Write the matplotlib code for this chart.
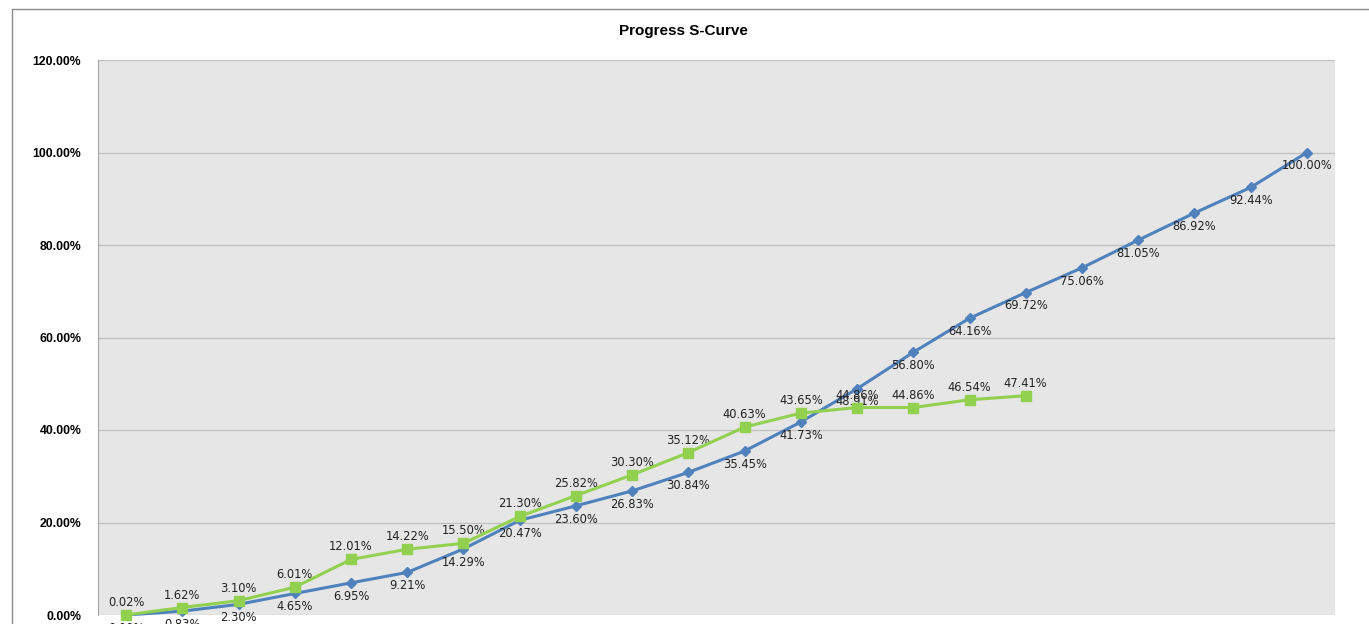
import numpy as np
import matplotlib.pyplot as plt
from matplotlib.patches import Rectangle
from matplotlib.ticker import FuncFormatter

# Valeurs (en %)
planned = [0.00, 0.83, 2.30, 4.65, 6.95, 9.21, 14.29, 20.47, 23.60, 26.83, 30.84,
           35.45, 41.73, 48.91, 56.80, 64.16, 69.72, 75.06, 81.05, 86.92, 92.44, 100.00]
actual = [0.02, 1.62, 3.10, 6.01, 12.01, 14.22, 15.50, 21.30, 25.82, 30.30, 35.12,
          40.63, 43.65, 44.86, 44.86, 46.54, 47.41]
y_ticks = [0, 20, 40, 60, 80, 100, 120]

blue = '#4F81BD'
green = '#92D050'

fig = plt.figure(figsize=(13.69, 6.24), dpi=100)
fig.patches.append(Rectangle((12 / 1369, -0.1), 1.2, 1.1 - 9 / 624, transform=fig.transFigure,
                             fill=False, edgecolor='#8C8C8C', lw=1.0))

ax = fig.add_axes([98 / 1369, 9 / 624, 1237 / 1369, 555 / 624])
ax.set_facecolor('#E6E6E6')

x_p = np.arange(len(planned))
x_a = np.arange(len(actual))

ax.plot(x_p, planned, color=blue, lw=2.2, marker='D', ms=5, zorder=3, clip_on=False)
ax.plot(x_a, actual, color=green, lw=2.2, marker='s', ms=6.5, zorder=4, clip_on=False)

# étiquettes : courbe bleue en dessous, verte au-dessus
for x, v in zip(x_p, planned):
    ax.annotate(f'{v:.2f}%', (x, v), xytext=(0, -9.5), textcoords='offset points',
                ha='center', va='center', fontsize=8.3, color='#222222',
                family='DejaVu Sans', annotation_clip=False)
for x, v in zip(x_a, actual):
    ax.annotate(f'{v:.2f}%', (x, v), xytext=(0, 9), textcoords='offset points',
                ha='center', va='center', fontsize=8.3, color='#222222',
                family='DejaVu Sans', annotation_clip=False)

ax.set_xlim(-0.5, len(planned) - 0.5)
ax.set_ylim(0, 120)
ax.set_yticks(y_ticks)
ax.yaxis.set_major_formatter(FuncFormatter(lambda v, _: f'{v:.2f}%'))
ax.set_xticks([])
ax.grid(axis='y', color='#BFBFBF', lw=0.9)
ax.set_axisbelow(True)
ax.tick_params(axis='y', length=0, pad=12)
for lab in ax.get_yticklabels():
    lab.set_fontweight('bold')
    lab.set_fontsize(8.8)
    lab.set_family('Liberation Sans')

for s in ['top', 'right', 'bottom']:
    ax.spines[s].set_visible(False)
ax.spines['left'].set_color('#A6A6A6')

fig.text(683 / 1369, 1 - 31 / 624, 'Progress S-Curve', ha='center', va='center',
         fontsize=11, fontweight='bold', family='Liberation Sans')

fig.savefig('out.png', dpi=100)
plt.close('all')
